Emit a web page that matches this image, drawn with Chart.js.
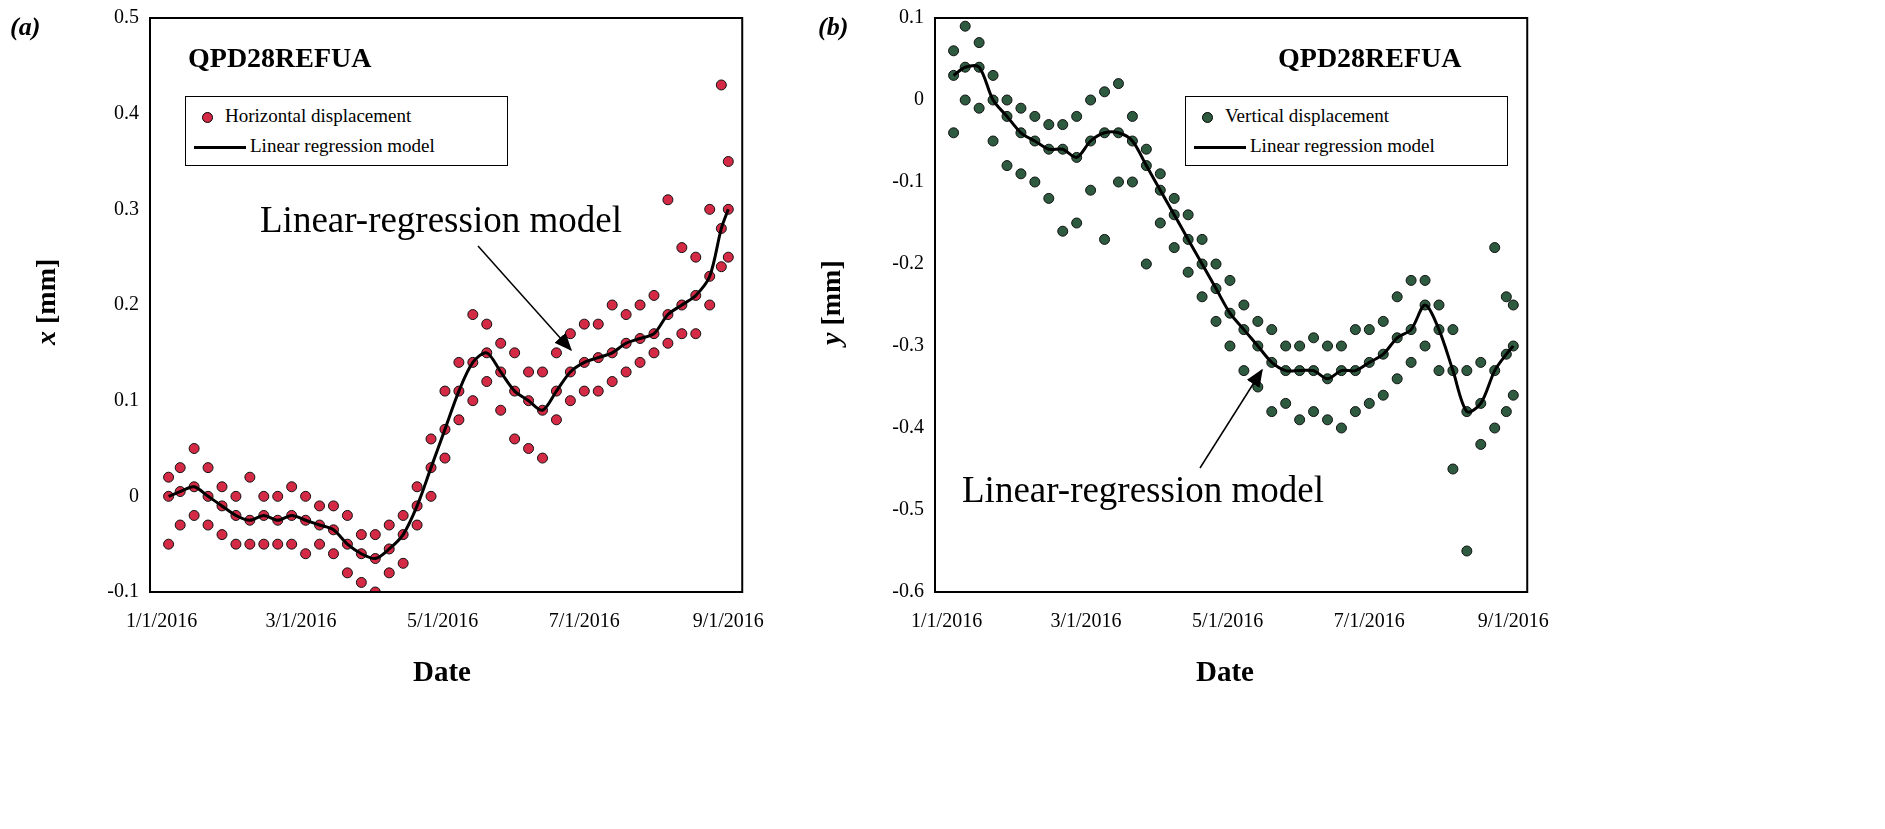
<!DOCTYPE html>
<html>
<head>
<meta charset="utf-8">
<script src="https://cdn.jsdelivr.net/npm/chart.js@4"></script>
<style>
  body { margin: 0; background: #fff; width: 1885px; height: 829px; position: relative; overflow: hidden;
         font-family: "Liberation Serif", "DejaVu Serif", serif; }
  .box { position: absolute; }
  .lbl { position: absolute; color: #000; white-space: nowrap; }
  .legend { position: absolute; border: 1px solid #000; background: #fff; font-size: 19px; padding: 4px 8px; }
  .legend div { height: 30px; line-height: 30px; }
  .dot { display: inline-block; width: 9px; height: 9px; border-radius: 50%; border: 1px solid #000; margin: 0 12px 0 8px; vertical-align: middle; }
  .ln { display: inline-block; width: 52px; height: 3px; background: #000; margin-right: 4px; vertical-align: middle; }
</style>
</head>
<body>
<div class="box" style="left:40px;top:0;width:736px;height:692px"><canvas id="chartA"></canvas></div>
<div class="box" style="left:825px;top:0;width:736px;height:692px"><canvas id="chartB"></canvas></div>

<div class="lbl" style="left:10px;top:12px;font-size:26px;font-weight:bold;font-style:italic">(a)</div>
<div class="lbl" style="left:818px;top:12px;font-size:26px;font-weight:bold;font-style:italic">(b)</div>
<div class="lbl" style="left:188px;top:42px;font-size:28px;font-weight:bold">QPD28REFUA</div>
<div class="lbl" style="left:1278px;top:42px;font-size:28px;font-weight:bold">QPD28REFUA</div>

<div class="legend" style="left:185px;top:96px;width:305px">
  <div><span class="dot" style="background:#d42a45"></span>Horizontal displacement</div>
  <div><span class="ln"></span>Linear regression model</div>
</div>
<div class="legend" style="left:1185px;top:96px;width:305px">
  <div><span class="dot" style="background:#2e5b40"></span>Vertical displacement</div>
  <div><span class="ln"></span>Linear regression model</div>
</div>

<div class="lbl" style="left:260px;top:198px;font-size:37px">Linear-regression model</div>
<div class="lbl" style="left:962px;top:468px;font-size:37px">Linear-regression model</div>

<div class="lbl" style="left:30px;top:345px;font-size:28px;font-weight:bold;transform:rotate(-90deg);transform-origin:left top"><i>x</i> [mm]</div>
<div class="lbl" style="left:815px;top:345px;font-size:28px;font-weight:bold;transform:rotate(-90deg);transform-origin:left top"><i>y</i> [mm]</div>
<div class="lbl" style="left:413px;top:655px;font-size:29px;font-weight:bold">Date</div>
<div class="lbl" style="left:1196px;top:655px;font-size:29px;font-weight:bold">Date</div>

<svg width="1885" height="829" style="position:absolute;left:0;top:0;pointer-events:none">
  <defs><marker id="ar" markerWidth="12" markerHeight="10" refX="11" refY="5" orient="auto">
    <path d="M0,0 L12,5 L0,10 z" fill="#000"/></marker></defs>
  <line x1="478" y1="246" x2="571" y2="350" stroke="#000" stroke-width="1.5" marker-end="url(#ar)"/>
  <line x1="1200" y1="468" x2="1262" y2="370" stroke="#000" stroke-width="1.5" marker-end="url(#ar)"/>
</svg>

<script>
// days since 1/1/2016
const days = [3, 8, 14, 20, 26, 32, 38, 44, 50, 56, 62, 68, 74, 80, 86, 92, 98, 104, 110, 116, 122, 128, 134, 140, 146, 152, 158, 164, 170, 176, 182, 188, 194, 200, 206, 212, 218, 224, 230, 236, 241, 244];
// panel a: horizontal displacement x [mm]
const xMid = [0.0, 0.005, 0.01, 0.0, -0.01, -0.02, -0.025, -0.02, -0.025, -0.02, -0.025, -0.03, -0.035, -0.05, -0.06, -0.065, -0.055, -0.04, -0.01, 0.03, 0.07, 0.11, 0.14, 0.15, 0.13, 0.11, 0.1, 0.09, 0.11, 0.13, 0.14, 0.145, 0.15, 0.16, 0.165, 0.17, 0.19, 0.2, 0.21, 0.23, 0.28, 0.3];
const xHigh = [0.02, 0.03, 0.05, 0.03, 0.01, 0.0, 0.02, 0.0, 0.0, 0.01, 0.0, -0.01, -0.01, -0.02, -0.04, -0.04, -0.03, -0.02, 0.01, 0.06, 0.11, 0.14, 0.19, 0.18, 0.16, 0.15, 0.13, 0.13, 0.15, 0.17, 0.18, 0.18, 0.2, 0.19, 0.2, 0.21, 0.31, 0.26, 0.25, 0.3, 0.43, 0.35];
const xLow = [-0.05, -0.03, -0.02, -0.03, -0.04, -0.05, -0.05, -0.05, -0.05, -0.05, -0.06, -0.05, -0.06, -0.08, -0.09, -0.1, -0.08, -0.07, -0.03, 0.0, 0.04, 0.08, 0.1, 0.12, 0.09, 0.06, 0.05, 0.04, 0.08, 0.1, 0.11, 0.11, 0.12, 0.13, 0.14, 0.15, 0.16, 0.17, 0.17, 0.2, 0.24, 0.25];
// panel b: vertical displacement y [mm]
const yMid = [0.03, 0.04, 0.04, 0.0, -0.02, -0.04, -0.05, -0.06, -0.06, -0.07, -0.05, -0.04, -0.04, -0.05, -0.08, -0.11, -0.14, -0.17, -0.2, -0.23, -0.26, -0.28, -0.3, -0.32, -0.33, -0.33, -0.33, -0.34, -0.33, -0.33, -0.32, -0.31, -0.29, -0.28, -0.25, -0.28, -0.33, -0.38, -0.37, -0.33, -0.31, -0.3];
const yHigh = [0.06, 0.09, 0.07, 0.03, 0.0, -0.01, -0.02, -0.03, -0.03, -0.02, 0.0, 0.01, 0.02, -0.02, -0.06, -0.09, -0.12, -0.14, -0.17, -0.2, -0.22, -0.25, -0.27, -0.28, -0.3, -0.3, -0.29, -0.3, -0.3, -0.28, -0.28, -0.27, -0.24, -0.22, -0.22, -0.25, -0.28, -0.33, -0.32, -0.18, -0.24, -0.25];
const yLow = [-0.04, 0.0, -0.01, -0.05, -0.08, -0.09, -0.1, -0.12, -0.16, -0.15, -0.11, -0.17, -0.1, -0.1, -0.2, -0.15, -0.18, -0.21, -0.24, -0.27, -0.3, -0.33, -0.35, -0.38, -0.37, -0.39, -0.38, -0.39, -0.4, -0.38, -0.37, -0.36, -0.34, -0.32, -0.3, -0.33, -0.45, -0.55, -0.42, -0.4, -0.38, -0.36];
const dateTicks = [0, 60, 121, 182, 244];
const dateLabels = ['1/1/2016', '3/1/2016', '5/1/2016', '7/1/2016', '9/1/2016'];

function pts(vals) { return days.map((d, i) => ({x: d, y: vals[i]})); }

function makeChart(id, mid, hi, lo, fill, yMin, yMax) {
    const pointSet = (vals) => ({
        type: 'scatter', data: pts(vals), backgroundColor: fill, borderColor: '#111',
        borderWidth: 1, pointRadius: 5, showLine: false
    });
    new Chart(document.getElementById(id), {
        data: {
            datasets: [
                {type: 'line', data: pts(mid), borderColor: '#000', borderWidth: 3, pointRadius: 0, tension: 0.3, order: 0},
                pointSet(hi), pointSet(lo), pointSet(mid)
            ]
        },
        options: {
            responsive: true, maintainAspectRatio: false, animation: false,
            layout: {padding: {top: 18, right: 0}},
            plugins: {legend: {display: false}, tooltip: {enabled: false}},
            scales: {
                x: {
                    type: 'linear', min: -5, max: 250,
                    afterBuildTicks: s => { s.ticks = dateTicks.map(v => ({value: v})); },
                    afterFit: s => { s.height = 100; },
                    ticks: {callback: v => dateLabels[dateTicks.indexOf(v)], color: '#000', maxRotation: 0,
                            font: {family: 'Liberation Serif', size: 20}, padding: 12},
                    grid: {display: false, drawTicks: true, tickLength: 6},
                    border: {color: '#000', width: 2}
                },
                y: {
                    min: yMin, max: yMax,
                    afterFit: s => { s.width = 110; },
                    ticks: {stepSize: 0.1, color: '#000', font: {family: 'Liberation Serif', size: 20},
                            callback: v => Math.abs(v) < 1e-9 ? '0' : +v.toFixed(1)},
                    grid: {display: false},
                    border: {color: '#000', width: 2}
                }
            }
        },
        plugins: [{
            id: 'frame',
            afterDraw(c) {
                const a = c.chartArea, ctx = c.ctx;
                ctx.save(); ctx.strokeStyle = '#000'; ctx.lineWidth = 2;
                ctx.strokeRect(a.left, a.top, a.right - a.left, a.bottom - a.top);
                ctx.restore();
            }
        }]
    });
}

makeChart('chartA', xMid, xHigh, xLow, '#d42a45', -0.1, 0.5);
makeChart('chartB', yMid, yHigh, yLow, '#2e5b40', -0.6, 0.1);
</script>
</body>
</html>
